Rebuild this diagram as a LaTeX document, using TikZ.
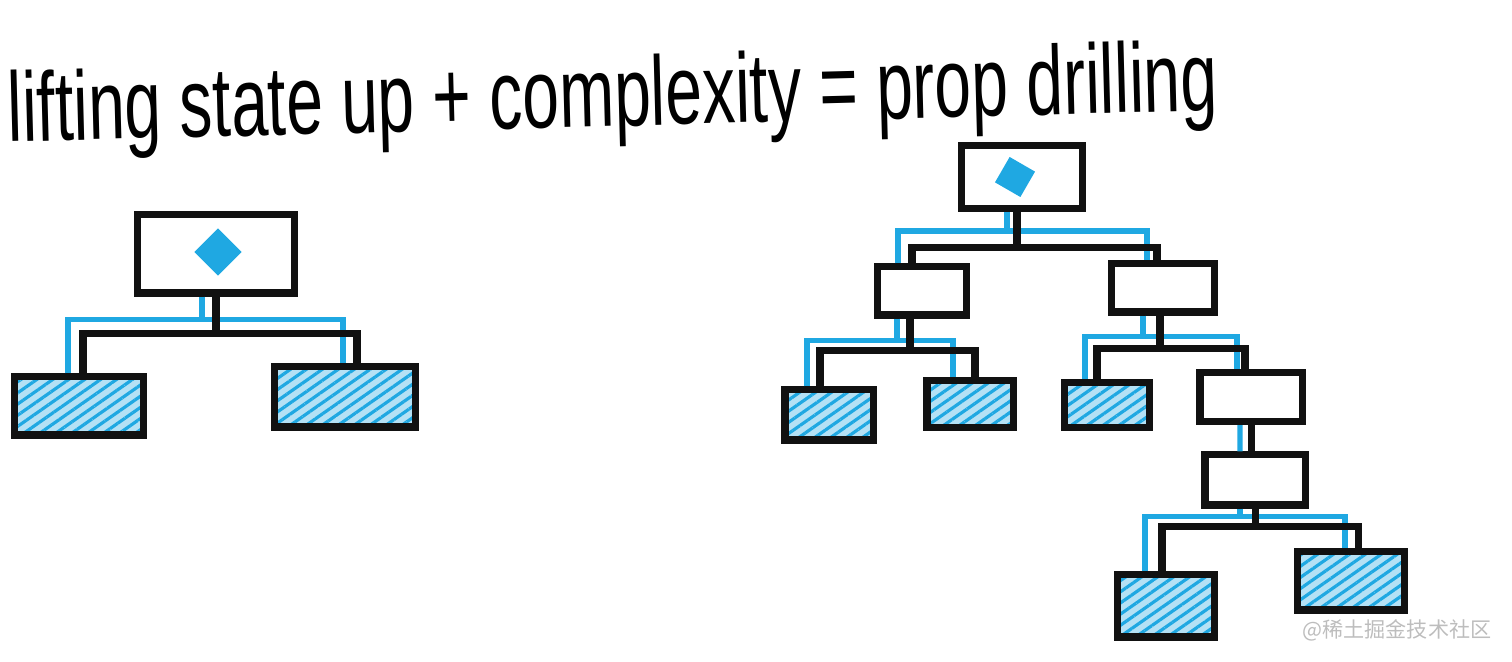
\documentclass[tikz,border=0pt]{standalone}
\usepackage{fontspec}
\setmainfont{Liberation Sans}
\newfontfamily\cjk{Noto Sans CJK SC}
\usepackage{xcolor}
\usetikzlibrary{shapes.geometric,patterns.meta}
\definecolor{Sky}{HTML}{1FA8E2}
\definecolor{SkyPale}{HTML}{B4E1F5}
\definecolor{Ink}{HTML}{111111}
\definecolor{Mark}{HTML}{BDBDBD}

\begin{document}
\begin{tikzpicture}[x=0.01cm,y=-0.01cm,
  box/.style={draw=Ink,line width=2pt,inner sep=0pt},
  leaf/.style={box,preaction={fill=SkyPale},preaction={pattern={Lines[angle=35,distance=2.6pt,line width=0.9pt]},pattern color=Sky}},
  gem/.style={diamond,fill=Sky,inner sep=0pt,minimum size=0.48cm},
  wire/.style={draw=Ink,line width=2pt},
  prop/.style={draw=Sky,line width=1.5pt}]
\useasboundingbox (0,0) rectangle (1512,662);

% title
\node[anchor=base west,rotate=1.5,inner sep=0pt,font=\fontsize{28}{34}\selectfont] (title) at (8,142)
  {\scalebox{0.67}[1]{lifting state up + complexity = prop drilling}};

% small tree
\node[box,minimum width=1.57cm,minimum height=0.78cm] (lroot) at (216,254) {};
\node[gem] (lgem) at (218,252) {};
\node[leaf,minimum width=1.28cm,minimum height=0.58cm] (lleafA) at (79,406) {};
\node[leaf,minimum width=1.40cm,minimum height=0.60cm] (lleafB) at (345,397) {};

% big tree
\node[box,minimum width=1.20cm,minimum height=0.63cm] (rroot) at (1022,177) {};
\node[gem,rotate=15,minimum size=0.42cm] (rgem) at (1015,177) {};
\node[box,minimum width=0.89cm,minimum height=0.48cm] (rmidA) at (922,291) {};
\node[box,minimum width=1.03cm,minimum height=0.48cm] (rmidB) at (1163,288) {};
\node[leaf,minimum width=0.88cm,minimum height=0.50cm] (rleafA) at (829,415) {};
\node[leaf,minimum width=0.86cm,minimum height=0.47cm] (rleafB) at (970,404) {};
\node[leaf,minimum width=0.85cm,minimum height=0.45cm] (rleafC) at (1107,405) {};
\node[box,minimum width=1.02cm,minimum height=0.49cm] (rmidC) at (1251,397) {};
\node[box,minimum width=1.00cm,minimum height=0.50cm] (rmidD) at (1255,480) {};
\node[leaf,minimum width=0.97cm,minimum height=0.62cm] (rleafD) at (1166,606) {};
\node[leaf,minimum width=1.07cm,minimum height=0.58cm] (rleafE) at (1351,581) {};

% props passed down (blue, under the black tree lines)
\draw[prop] ([xshift=-0.14cm]lroot.south) -- ++(0,23) coordinate (lpfork);
\draw[prop] ([xshift=-0.11cm]lleafA.north) |- (lpfork) -| ([xshift=-0.02cm]lleafB.north);
\draw[prop] ([xshift=-0.15cm]rroot.south) -- ++(0,19) coordinate (rpfork);
\draw[prop] ([xshift=-0.24cm]rmidA.north) |- (rpfork) -| ([xshift=-0.16cm]rmidB.north);
\draw[prop] ([xshift=-0.25cm]rmidA.south) -- ++(0,22) coordinate (apfork);
\draw[prop] ([xshift=-0.22cm]rleafA.north) |- (apfork) -| ([xshift=-0.17cm]rleafB.north);
\draw[prop] ([xshift=-0.20cm]rmidB.south) -- ++(0,21) coordinate (bpfork);
\draw[prop] ([xshift=-0.22cm]rleafC.north) |- (bpfork) -| ([xshift=-0.14cm]rmidC.north);
\draw[prop] ([xshift=-0.11cm]rmidC.south) -- ([xshift=-0.15cm]rmidD.north);
\draw[prop] ([xshift=-0.15cm]rmidD.south) -- ++(0,8) coordinate (dpfork);
\draw[prop] ([xshift=-0.21cm]rleafD.north) |- (dpfork) -| ([xshift=-0.06cm]rleafE.north);

% tree lines
\draw[wire] (lroot.south) -- ++(0,37) coordinate (lfork);
\draw[wire] ([xshift=0.04cm]lleafA.north) |- (lfork) -| ([xshift=0.12cm]lleafB.north);
\draw[wire] ([xshift=-0.05cm]rroot.south) -- ++(0,35) coordinate (rfork);
\draw[wire] ([xshift=-0.10cm]rmidA.north) |- (rfork) -| ([xshift=-0.06cm]rmidB.north);
\draw[wire] ([xshift=-0.12cm]rmidA.south) -- ++(0,32) coordinate (afork);
\draw[wire] ([xshift=-0.09cm]rleafA.north) |- (afork) -| ([xshift=0.05cm]rleafB.north);
\draw[wire] ([xshift=-0.03cm]rmidB.south) -- ++(0,33) coordinate (bfork);
\draw[wire] ([xshift=-0.10cm]rleafC.north) |- (bfork) -| ([xshift=-0.06cm]rmidC.north);
\draw[wire] (rmidC.south) -- (rmidC.south |- rmidD.north);
\draw[wire] (rmidD.south) -- ++(0,18) coordinate (dfork);
\draw[wire] ([xshift=-0.04cm]rleafD.north) |- (dfork) -| ([xshift=0.07cm]rleafE.north);

% watermark
\node[anchor=east,text=Mark,font=\cjk\fontsize{6}{7}\selectfont,inner sep=0pt] (mark) at (1492,630) {@稀土掘金技术社区};
\end{tikzpicture}
\end{document}
